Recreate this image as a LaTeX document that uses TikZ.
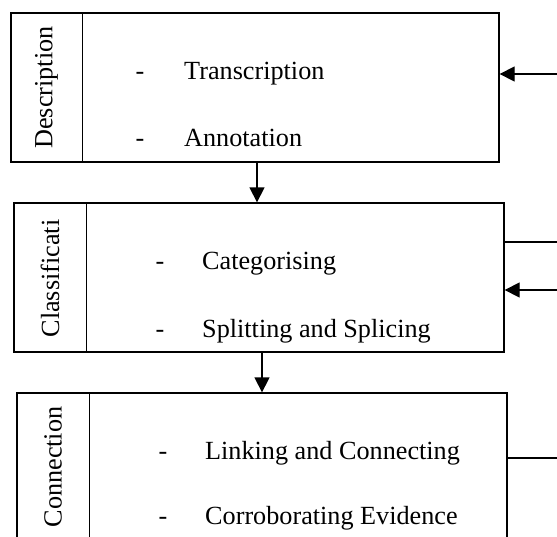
\documentclass[tikz,border=0pt]{standalone}
\usepackage{fontspec}
\setmainfont{Liberation Serif}
\usetikzlibrary{arrows.meta}

\begin{document}
\begin{tikzpicture}[x=1pt,y=-1pt,
    stage/.style={draw,line width=1.3pt,inner sep=0pt,minimum width=490pt,minimum height=149pt},
    stagename/.style={rotate=90,inner sep=0pt,font=\fontsize{26.2}{30}\selectfont},
    item/.style={anchor=base west,inner sep=0pt,font=\fontsize{26.2}{30}\selectfont},
    flow/.style={line width=1.3pt,-{Triangle[length=15pt,width=15pt]}},
    link/.style={line width=1.3pt}]
        \clip (0,0) rectangle (557,536);
        % the three stages
        \node[stage,minimum width=488pt] (Desc) at (255,87.5) {};
        \node[stage] (Cls) at (259,277.5) {};
        \node[stage] (Conn) at (262,467.5) {};
        \draw[link] ([xshift=72pt]Desc.north west) -- ([xshift=72pt]Desc.south west);
        \draw[link] ([xshift=73pt]Cls.north west) -- ([xshift=73pt]Cls.south west);
        \draw[link] ([xshift=73pt]Conn.north west) -- ([xshift=73pt]Conn.south west);
        \node[stagename] (DescName) at (46.5,87.5) {Description};
        \node[stagename] (ClsName) at (50,278.5) {Classificati};
        \node[stagename] (ConnName) at (53,467) {Connection};
        % items
        \node[item] (DescDashA) at (135.5,79) {-};
        \node[item] (DescA) at (184,79) {Transcription};
        \node[item] (DescDashB) at (135.5,146.5) {-};
        \node[item] (DescB) at (184,146.5) {Annotation};
        \node[item] (ClsDashA) at (155.5,269.5) {-};
        \node[item] (ClsA) at (202,269.5) {Categorising};
        \node[item] (ClsDashB) at (155.5,337) {-};
        \node[item] (ClsB) at (202,337) {Splitting and Splicing};
        \node[item] (ConnDashA) at (158.5,459.5) {-};
        \node[item] (ConnA) at (205,459.5) {Linking and Connecting};
        \node[item] (ConnDashB) at (158.5,524.5) {-};
        \node[item] (ConnB) at (205,524.5) {Corroborating Evidence};
        % flow between stages
        \draw[flow] ([xshift=2pt]Desc.south) -- ([xshift=2pt]Desc.south |- Cls.north);
        \draw[flow] (Cls.south -| Conn.north) -- (Conn.north);
        % lines on the right
        \coordinate (DescIn) at (557,74);
        \coordinate (ClsOut) at (557,242);
        \coordinate (ClsIn) at (557,290);
        \coordinate (ConnOut) at (557,458);
        \draw[flow] (DescIn) -- (Desc.east |- DescIn);
        \draw[link] (Cls.east |- ClsOut) -- (ClsOut);
        \draw[flow] (ClsIn) -- (Cls.east |- ClsIn);
        \draw[link] (Conn.east |- ConnOut) -- (ConnOut);
    \end{tikzpicture}
\end{document}
